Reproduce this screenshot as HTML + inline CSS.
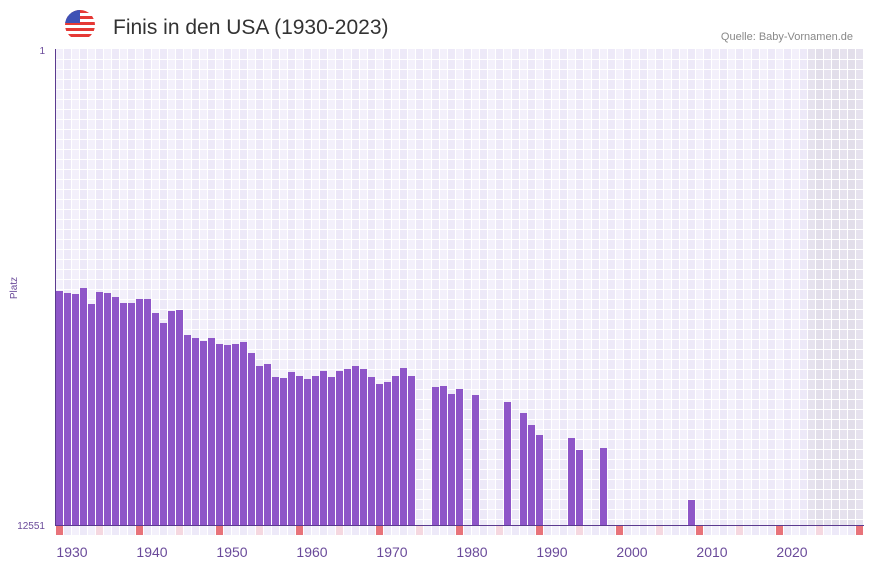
<!DOCTYPE html>
<html><head><meta charset="utf-8"><style>
body{margin:0;background:#fff;width:873px;height:567px;overflow:hidden;font-family:"Liberation Sans",sans-serif}
</style></head><body>
<svg id="s" width="873" height="567" xmlns="http://www.w3.org/2000/svg">
<defs><clipPath id="c"><circle cx="80" cy="25" r="15"/></clipPath></defs>
<g clip-path="url(#c)">
<rect x="65" y="10" width="30" height="30" fill="#fff"/>
<rect x="65" y="10" width="30" height="3" fill="#e53935"/>
<rect x="65" y="16" width="30" height="3" fill="#e53935"/>
<rect x="65" y="22" width="30" height="3" fill="#e53935"/>
<rect x="65" y="28" width="30" height="3" fill="#e53935"/>
<rect x="65" y="34" width="30" height="3" fill="#e53935"/>
<rect x="65" y="10" width="15" height="13" fill="#3f51b5"/>
</g>
<text x="113" y="34" font-size="21" fill="#333">Finis in den USA (1930-2023)</text>
<text x="853" y="40" font-size="11" fill="#888" text-anchor="end">Quelle: Baby-Vornamen.de</text>
<text x="45" y="54" font-size="10" fill="#6a4a9a" text-anchor="end">1</text>
<text x="45" y="529" font-size="10" fill="#6a4a9a" text-anchor="end">12551</text>
<text transform="translate(17,288) rotate(-90)" font-size="10" fill="#6a4a9a" text-anchor="middle">Platz</text>
<g id="g"></g>
</svg>
<script>
var g=document.getElementById('g'),h='';
for(var i=0;i<101;i++){var x=56+8*i;var f=i>=94?(i%2?'#e2deea':'#e6e2ee'):(i%2?'#ede9f8':'#f3f0fb');
h+='<rect x="'+x+'" y="49" width="7" height="476" fill="'+f+'"/>';
var m=i%10==0?'#e8737a':(i%5==0?'#f5d8e0':(i%2?'#ede9f8':'#f3f0fb'));
h+='<rect x="'+x+'" y="526" width="7" height="9" fill="'+m+'"/>';}
for(var y=59;y<525;y+=10)h+='<rect x="56" y="'+y+'" width="808" height="1" fill="#fff"/>';
var t={0:291,1:293,2:294,3:288,4:304,5:292,6:293,7:297,8:303,9:303,10:299,11:299,12:313,13:323,14:311,15:310,16:335,17:338,18:341,19:338,20:344,21:345,22:344,23:342,24:353,25:366,26:364,27:377,28:378,29:372,30:376,31:379,32:376,33:371,34:377,35:371,36:369,37:366,38:369,39:377,40:384,41:382,42:376,43:368,44:376,47:387,48:386,49:394,50:389,52:395,56:402,58:413,59:425,60:435,64:438,65:450,68:448,79:500};
for(var k in t){var x=56+8*k;h+='<rect x="'+x+'" y="'+t[k]+'" width="7" height="'+(525-t[k])+'" fill="#8e56c8"/>';}
h+='<rect x="55" y="49" width="1" height="477" fill="#5b3a8f"/><rect x="55" y="525" width="809" height="1" fill="#5b3a8f"/>';
for(var j=0;j<10;j++)h+='<text x="'+(72+80*j)+'" y="557" font-size="14" fill="#6a4a9a" text-anchor="middle">'+(1930+10*j)+'</text>';
g.innerHTML=h;
</script>
</body></html>
